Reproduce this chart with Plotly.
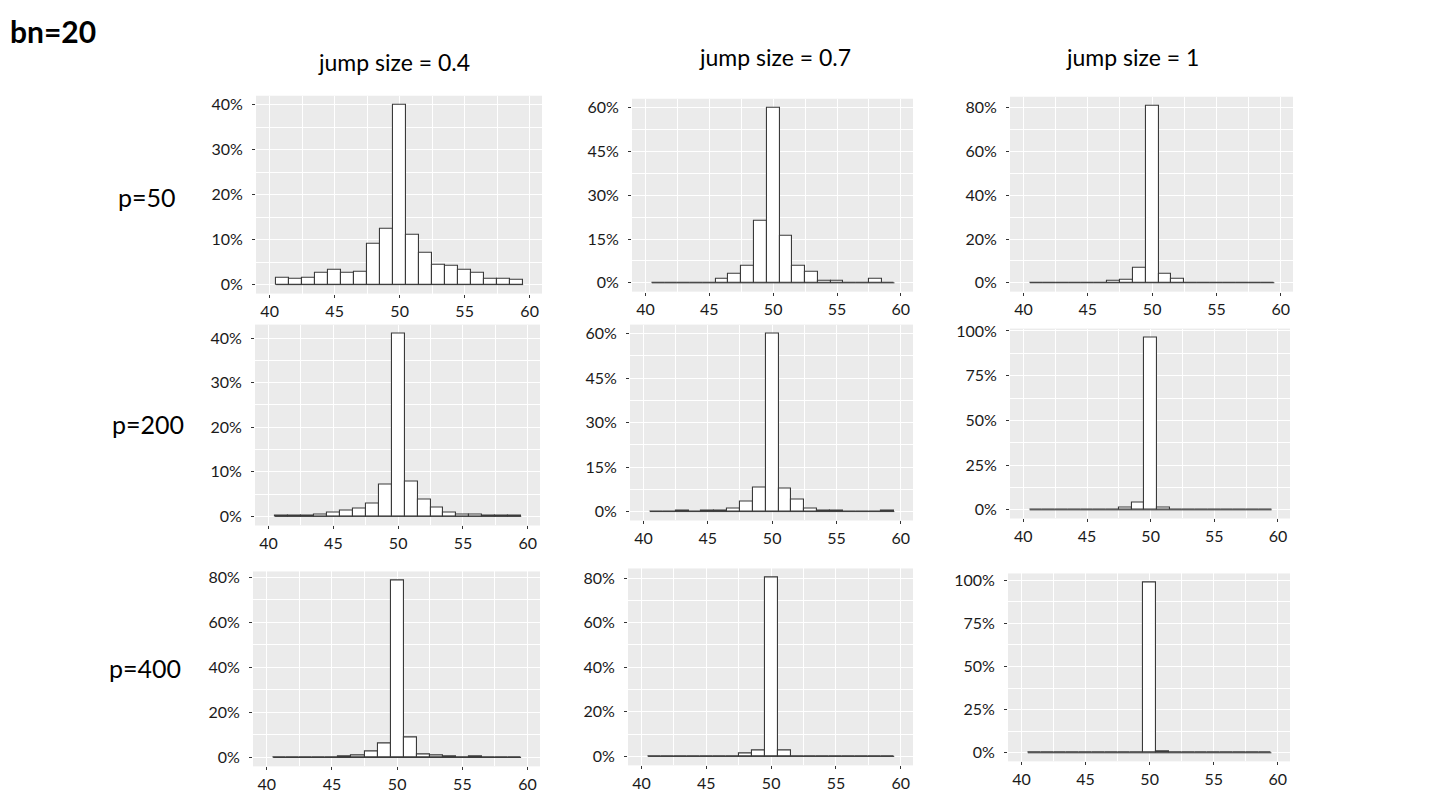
import plotly.graph_objects as go

# bin centres (width 1) shared by every panel
bins = list(range(41, 60))

# share of runs per bin in % (rows p, columns jump size)
p50_j04 = [1.6, 1.35, 1.5, 2.7, 3.3, 2.7, 2.85, 9.2, 12.4, 40.0, 11.0, 7.05, 4.4, 4.1, 3.3, 2.6, 1.2, 1.3, 1.05]
p50_j07 = [0, 0, 0, 0, 0, 1.5, 3.0, 5.75, 21.3, 60.0, 16.2, 5.9, 3.7, 0.8, 0.8, 0, 0, 1.5, 0]
p50_j1 = [0, 0, 0, 0, 0, 0.1, 0.9, 1.5, 7.1, 81.0, 4.25, 1.7, 0.2, 0.1, 0, 0, 0, 0, 0]

p200_j04 = [0.1, 0.1, 0.15, 0.4, 0.8, 1.2, 1.7, 2.9, 7.2, 41.0, 7.8, 3.7, 1.9, 0.8, 0.5, 0.5, 0.15, 0.25, 0.1]
p200_j07 = [0, 0, 0.2, 0, 0.5, 0.3, 1.1, 3.5, 8.25, 60.0, 7.6, 4.2, 1.1, 0.3, 0.3, 0.1, 0, 0.1, 0.2]
p200_j1 = [0, 0, 0, 0, 0, 0, 0.1, 1.5, 4.2, 96.5, 1.5, 0, 0, 0, 0, 0, 0, 0, 0]

p400_j04 = [0, 0, 0, 0, 0.05, 0.6, 0.7, 2.8, 6.3, 78.7, 8.8, 1.5, 0.9, 0.4, 0.1, 0.3, 0, 0, 0]
p400_j07 = [0, 0, 0, 0, 0, 0, 0.15, 1.1, 2.6, 80.3, 2.6, 0.15, 0.1, 0, 0, 0, 0, 0, 0]
p400_j1 = [0, 0, 0, 0, 0, 0, 0, 0, 0.1, 99.0, 0.6, 0, 0, 0, 0, 0, 0, 0, 0]

col_titles = ["jump size = 0.4", "jump size = 0.7", "jump size = 1"]
row_titles = ["p=50", "p=200", "p=400"]
main_title = "bn=20"

grid = [[p50_j04, p50_j07, p50_j1],
        [p200_j04, p200_j07, p200_j1],
        [p400_j04, p400_j07, p400_j1]]
ysteps = [[10, 15, 20], [10, 15, 25], [20, 20, 25]]

# page body keeps an 8px margin, so the figure is 16px smaller and shifted by 8
OFF = 8
W, H = 1440 - 2 * OFF, 810 - 2 * OFF
# panel boxes in window pixels: x0, x1, y0 (top), y1 (bottom)
boxes = [[(256, 542, 97, 295), (632, 913, 100, 293), (1010, 1293, 98, 293)],
         [(255, 540, 326, 527), (630, 913, 326, 522), (1010, 1290, 330, 520)],
         [(253, 540, 573, 768), (628, 913, 570, 767), (1008, 1290, 575, 763)]]


def px(x):
    return (x - OFF) / W


def py(y):
    # small empirical vertical correction measured on the rendered page
    yd = (y - 9.3) / 0.9905
    return 1 - (yd - OFF) / H


outline = "#3a3a3a"
tickfont = dict(family="Lato, Open Sans, sans-serif", size=16, color="#1a1a1a")

fig = go.Figure()
k = 0
for r in range(3):
    for c in range(3):
        k += 1
        vals = grid[r][c]
        xa = "x" if k == 1 else "x%d" % k
        ya = "y" if k == 1 else "y%d" % k
        # ggplot draws zero-height bins as a flat outline along the baseline
        fig.add_trace(go.Scatter(x=[bins[0] - 0.5, bins[-1] + 0.5], y=[0, 0], mode="lines",
                                 line=dict(color=outline, width=1), xaxis=xa, yaxis=ya,
                                 showlegend=False, hoverinfo="skip"))
        fig.add_trace(go.Bar(x=bins, y=vals, width=1, xaxis=xa, yaxis=ya, showlegend=False,
                             marker=dict(color="white", line=dict(color=outline, width=1.1))))
        x0, x1, y0, y1 = boxes[r][c]
        top = max(vals)
        step = ysteps[r][c]
        fig.layout["xaxis%d" % k] = dict(
            domain=[px(x0), px(x1)], anchor=ya, range=[38.95, 60.95],
            tick0=40, dtick=5, ticks="outside", ticklen=3, tickcolor="#333333",
            showgrid=True, gridcolor="white", gridwidth=1.2, zeroline=False,
            minor=dict(dtick=2.5, showgrid=True, gridcolor="white", gridwidth=0.6),
            tickfont=tickfont, showline=False, fixedrange=True)
        fig.layout["yaxis%d" % k] = dict(
            domain=[py(y1), py(y0)], anchor=xa, range=[-0.05 * top, 1.05 * top],
            tick0=0, dtick=step, ticksuffix="%", ticks="outside", ticklen=3,
            tickcolor="#333333", ticklabelstandoff=6,
            showgrid=True, gridcolor="white", gridwidth=1.2, zeroline=False,
            minor=dict(dtick=step / 2, showgrid=True, gridcolor="white", gridwidth=0.6),
            tickfont=tickfont, showline=False, fixedrange=True)

annotations = []
title_font = dict(family="Lato, Open Sans, sans-serif", size=23, color="black")
for t, xc, yc in zip(col_titles, [394, 775, 1132], [63, 58, 58]):
    annotations.append(dict(text=t, x=px(xc), y=py(yc), xref="paper", yref="paper",
                            showarrow=False, xanchor="center", yanchor="middle", font=title_font))
row_font = dict(family="Lato, Open Sans, sans-serif", size=25, color="black")
for t, xc, yc in zip(row_titles, [147, 148, 145], [198, 425, 670]):
    annotations.append(dict(text=t, x=px(xc), y=py(yc), xref="paper", yref="paper",
                            showarrow=False, xanchor="center", yanchor="middle", font=row_font))
annotations.append(dict(text="<b>%s</b>" % main_title, x=px(8), y=py(32), xref="paper", yref="paper",
                        showarrow=False, xanchor="left", yanchor="middle",
                        font=dict(family="Lato, Open Sans, sans-serif", size=30, color="black")))

fig.update_layout(width=W, height=H, margin=dict(l=0, r=0, t=0, b=0),
                  paper_bgcolor="white", plot_bgcolor="#EBEBEB",
                  bargap=0, annotations=annotations)
fig.write_html("out.html")
